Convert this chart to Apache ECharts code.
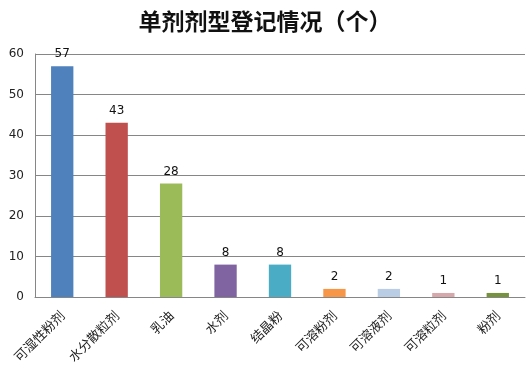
<!DOCTYPE html>
<html>
<head>
<meta charset="utf-8">
<script src="https://cdn.jsdelivr.net/npm/echarts@6/dist/echarts.min.js"></script>
<style>
  html, body { margin: 0; padding: 0; background: #fff; }
  #chart { width: 530px; height: 378px; }
</style>
</head>
<body>
<div id="chart"></div>
<script>
// 剂型与登记数量
const categories = ['可湿性粉剂', '水分散粒剂', '乳油', '水剂', '结晶粉', '可溶粉剂', '可溶液剂', '可溶粒剂', '粉剂']
const counts = [57, 43, 28, 8, 8, 2, 2, 1, 1]
const barColors = ['#4F81BD', '#C0504D', '#9BBB59', '#8064A2', '#4BACC6', '#F79646', '#B9CDE5', '#D6A7AB', '#76923C']

const chart = echarts.init(document.getElementById('chart'))
chart.setOption({
  animation: false,
  title: {
    text: '单剂剂型登记情况（个）',
    left: 'center',
    top: 5,
    textStyle: {
      fontFamily: 'Noto Sans CJK SC',
      fontSize: 23,
      fontWeight: 'bold',
      color: '#111'
    }
  },
  grid: {
    left: 35,
    right: 5,
    top: 54,
    bottom: 81
  },
  xAxis: {
    type: 'category',
    data: categories,
    axisLine: { lineStyle: { color: '#868686' } },
    axisTick: { show: false },
    axisLabel: {
      rotate: 45,
      interval: 0,
      margin: 16,
      fontFamily: 'Noto Sans CJK SC',
      fontSize: 13,
      color: '#222'
    }
  },
  yAxis: {
    type: 'value',
    min: 0,
    max: 60,
    interval: 10,
    axisLine: { show: true, lineStyle: { color: '#868686' } },
    axisTick: { show: false },
    splitLine: { lineStyle: { color: '#868686' } },
    axisLabel: {
      margin: 11,
      fontFamily: 'DejaVu Sans',
      fontSize: 12,
      color: '#222'
    }
  },
  series: [{
    type: 'bar',
    data: counts.map((v, i) => ({ value: v, itemStyle: { color: barColors[i] } })),
    barWidth: '41%',
    label: {
      show: true,
      position: 'top',
      distance: 6,
      fontFamily: 'DejaVu Sans',
      fontSize: 12,
      color: '#111'
    }
  }]
})
</script>
</body>
</html>
